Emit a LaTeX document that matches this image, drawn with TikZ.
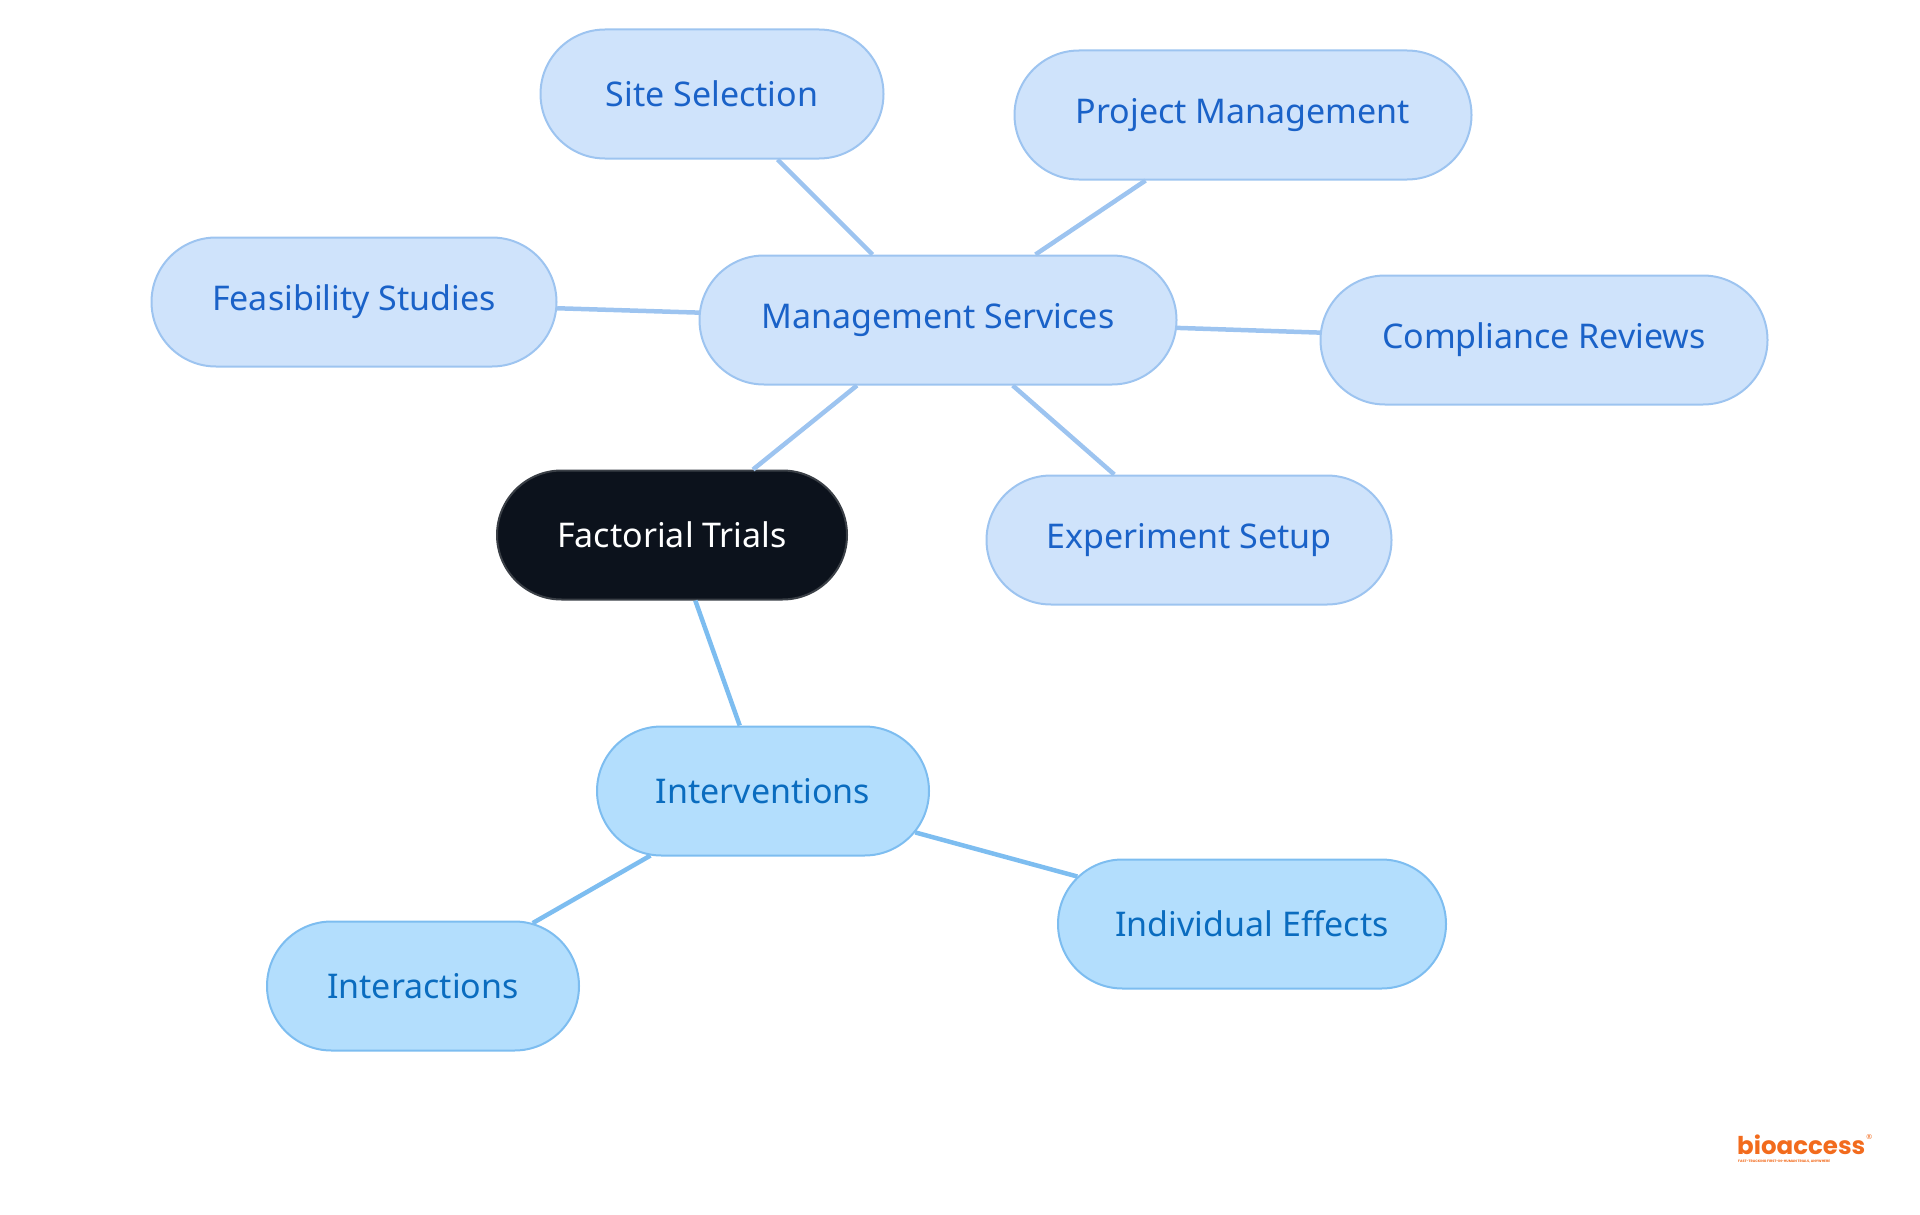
\documentclass[tikz,border=0pt]{standalone}
\usepackage{fontspec}
\setmainfont{Noto Sans}
\newfontfamily\logofont{Poppins}
\usetikzlibrary{shapes.misc}
\definecolor{mfill}{HTML}{CFE3FB}
\definecolor{mdraw}{HTML}{9DC4F0}
\definecolor{mtext}{HTML}{1A62C8}
\definecolor{ifill}{HTML}{B3DEFD}
\definecolor{idraw}{HTML}{7DBDF0}
\definecolor{itext}{HTML}{0A6CBF}
\definecolor{rfill}{HTML}{0C121C}
\definecolor{rdraw}{HTML}{3A3F46}
\definecolor{logo}{HTML}{F26B1D}
\tikzset{
  box/.style={rounded rectangle, minimum height=129pt, line width=2pt, inner sep=0pt,
    font=\fontsize{34}{40}\selectfont},
  mbox/.style={box, fill=mfill, draw=mdraw, text=mtext},
  ibox/.style={box, fill=ifill, draw=idraw, text=itext},
  rbox/.style={box, fill=rfill, draw=rdraw, text=white},
  mline/.style={draw=mdraw, line width=4.5pt},
  iline/.style={draw=idraw, line width=4.5pt},
}
\begin{document}
\begin{tikzpicture}[x=1pt,y=-1pt]
\useasboundingbox (0,0) rectangle (1920,1215);
\node[rbox, minimum width=350pt] (root) at (672,535) {Factorial Trials};
\node[mbox, minimum width=477pt] (mgmt) at (938,320) {Management Services};
\node[mbox, minimum width=343pt] (site) at (712,94) {Site Selection};
\node[mbox, minimum width=457pt] (proj) at (1243,115) {Project Management};
\node[mbox, minimum width=405pt] (feas) at (354,302) {Feasibility Studies};
\node[mbox, minimum width=447pt] (comp) at (1544,340) {Compliance Reviews};
\node[mbox, minimum width=405pt] (exp) at (1189,540) {Experiment Setup};
\node[ibox, minimum width=332pt] (intv) at (763,791) {Interventions};
\node[ibox, minimum width=312pt] (inter) at (423,986) {Interactions};
\node[ibox, minimum width=388pt] (indiv) at (1252,924) {Individual Effects};
\draw[mline] (mgmt) -- (root);
\draw[mline] (mgmt) -- (site);
\draw[mline] (mgmt) -- (proj);
\draw[mline] (mgmt) -- (feas);
\draw[mline] (mgmt) -- (comp);
\draw[mline] (mgmt) -- (exp);
\draw[iline] (root) -- (intv);
\draw[iline] (intv) -- (inter);
\draw[iline] (intv) -- (indiv);
\node[anchor=base west, inner sep=0pt, text=logo, font=\logofont\bfseries\fontsize{24.5}{27}\selectfont] (logo) at (1737,1154) {bioaccess};
\node[anchor=south west, inner sep=0.5pt, text=logo, font=\fontsize{7}{7}\selectfont] (reg) at ([yshift=-6pt]logo.north east) {®};
\node[anchor=north west, inner sep=0pt, text=logo, font=\logofont\bfseries\fontsize{3.4}{4}\selectfont] (tag) at (1738,1160) {FAST-TRACKING FIRST-IN-HUMAN TRIALS, ANYWHERE};
\end{tikzpicture}
\end{document}
